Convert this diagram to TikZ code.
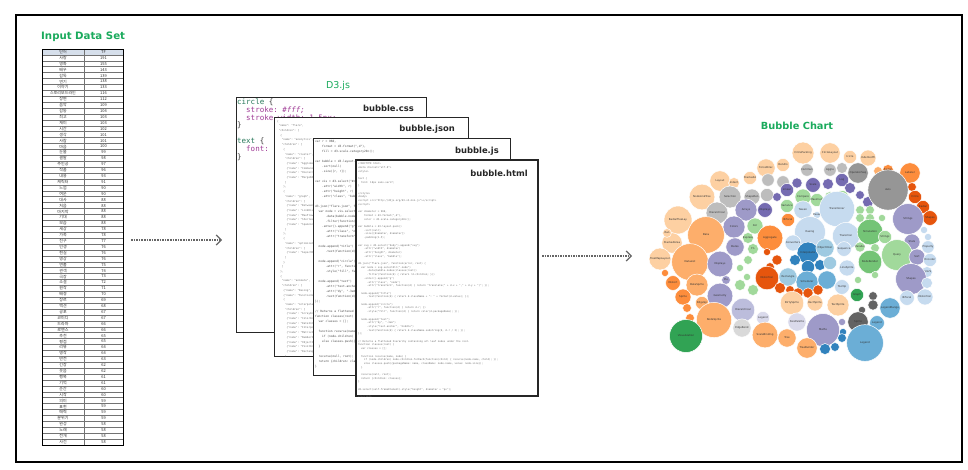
\documentclass[tikz,border=0pt]{standalone}
\usepackage{fontspec}
\setmainfont{DejaVu Sans}
\setmonofont{DejaVu Sans Mono}
\newfontfamily\kr{Noto Sans CJK KR}
\usetikzlibrary{arrows.meta,positioning}

\definecolor{vert}{RGB}{26,170,92}
\definecolor{tete}{RGB}{214,223,235}
\definecolor{cssel}{RGB}{40,120,90}
\definecolor{cssprop}{RGB}{160,60,150}
% palette category20c
\definecolor{b1}{HTML}{3182BD}\definecolor{b2}{HTML}{6BAED6}
\definecolor{b3}{HTML}{9ECAE1}\definecolor{b4}{HTML}{C6DBEF}
\definecolor{o1}{HTML}{E6550D}\definecolor{o2}{HTML}{FD8D3C}
\definecolor{o3}{HTML}{FDAE6B}\definecolor{o4}{HTML}{FDD0A2}
\definecolor{g1}{HTML}{31A354}\definecolor{g2}{HTML}{74C476}
\definecolor{g3}{HTML}{A1D99B}\definecolor{g4}{HTML}{C7E9C0}
\definecolor{p1}{HTML}{756BB1}\definecolor{p2}{HTML}{9E9AC8}
\definecolor{p3}{HTML}{BCBDDC}\definecolor{p4}{HTML}{DADAEB}
\definecolor{k1}{HTML}{636363}\definecolor{k2}{HTML}{969696}
\definecolor{k3}{HTML}{BDBDBD}\definecolor{k4}{HTML}{D9D9D9}

\tikzset{
  titre/.style={text=vert, inner sep=0},
  filebox/.style={draw=black!85, line width=1, fill=white, inner sep=0, outer sep=0, anchor=north west},
  filename/.style={inner sep=0, font=\bfseries\fontsize{8.4}{10}\selectfont, text=black!85},
  code/.style={anchor=north west, align=left, inner sep=0, text=black!70},
  flow/.style={line width=1.6, black!60, densely dotted, -{Straight Barb[length=5pt,width=10pt,line width=1.2pt]}},
  cellule/.style={font=\kr\fontsize{4}{4}\selectfont, inner sep=0, text=black!80},
  ligne/.style={black!55, line width=0.5},
  bulle/.style={draw=white, line width=0.5},
  bubtxt/.style={font=\fontsize{2.6}{3}\selectfont, text=black!80, inner sep=0},
}

\begin{document}
\begin{tikzpicture}[x=1pt,y=-1pt]
\useasboundingbox (0,0) rectangle (968,470);
% Cadre
\draw[line width=1.8] (16,15) rectangle (962,462);

% Tableau
\node[titre, anchor=base west, font=\bfseries\fontsize{10.2}{12}\selectfont] (t1) at (41,40) {Input Data Set};
\fill[tete] (42,49) rectangle (123,54.91);
\foreach \i in {1,...,66} \draw[ligne] (42,{49+\i*5.91}) -- (123,{49+\i*5.91});
\draw[ligne] (84,49) -- (84,445);
\node[draw=black, line width=0.8, minimum width=81, minimum height=396, inner sep=0, outer sep=0, anchor=north west] (tab) at (42,49) {};
\node[cellule] (h1) at (63,51.95) {단어};
\node[cellule] (h2) at (103.5,51.95) {TF};
\foreach \w/\n [count=\i] in {사랑/191,영화/155,배우/143,감독/139,연기/138,이야기/133,스토리보드라인/116,장면/112,음악/109,감동/104,최고/103,재미/103,시간/102,생각/101,사람/101,마음/100,눈물/99,결말/98,주인공/97,작품/96,내용/93,캐릭터/91,느낌/90,여운/90,대사/88,처음/88,마지막/88,기대/88,모습/88,세상/78,가족/78,친구/77,인생/76,현실/76,영상/76,연출/75,관객/74,극장/73,소설/72,원작/71,배경/70,장르/69,액션/68,공포/67,코미디/67,드라마/66,로맨스/66,추천/65,평점/65,리뷰/64,명작/64,반전/63,긴장/62,웃음/62,행복/61,기억/61,순간/60,시작/60,의미/59,표현/59,매력/59,분위기/59,완성/58,노래/58,전개/58,사건/58}
{
  \node[cellule] (mot\i) at (63,{49+(\i+0.5)*5.91}) {\w};
  \node[cellule] (tf\i) at (103.5,{49+(\i+0.5)*5.91}) {\n};
}

% Fichiers
\node[titre, anchor=base, font=\fontsize{9.5}{11}\selectfont] (t2) at (338,88.5) {D3.js};

\node[filebox, minimum width=190, minimum height=234] (css) at (236,98) {};
\node[code, text=black!80, font=\ttfamily\fontsize{7.5}{7.8}\selectfont] (csscode) at (237,98.5) {%
\textcolor{cssel}{circle} \{\\
~~\textcolor{cssprop}{stroke:} \textcolor{cssprop}{\itshape\#fff;}\\
~~\textcolor{cssprop}{stroke-width:} \textcolor{cssprop}{1.5px;}\\
\}\\
~\\
\textcolor{cssel}{text} \{\\
~~\textcolor{cssprop}{font:}\\
\}};
\node[filename, below left=6.5pt and 12pt of css.north east] (cssnom) {bubble.css};

\node[filebox, minimum width=194, minimum height=238] (json) at (274,118) {};
\begin{scope}
\clip (json.north west) rectangle (json.south east);
\node[code, text=black!55, font=\ttfamily\fontsize{2.6}{4.7}\selectfont] (jsoncode) at (277,120) {%
\{\\
~"name": "flare",\\
~"children": [\\
~~\{\\
~~~"name": "analytics",\\
~~~"children": [\\
~~~~\{\\
~~~~~"name": "cluster",\\
~~~~~"children": [\\
~~~~~~\{"name": "AgglomerativeCluster", "size": 3938\},\\
~~~~~~\{"name": "CommunityStructure", "size": 3812\},\\
~~~~~~\{"name": "HierarchicalCluster", "size": 6714\},\\
~~~~~~\{"name": "MergeEdge", "size": 743\}\\
~~~~~]\\
~~~~\},\\
~~~~\{\\
~~~~~"name": "graph",\\
~~~~~"children": [\\
~~~~~~\{"name": "BetweennessCentrality", "size": 3534\},\\
~~~~~~\{"name": "LinkDistance", "size": 5731\},\\
~~~~~~\{"name": "MaxFlowMinCut", "size": 7840\},\\
~~~~~~\{"name": "ShortestPaths", "size": 5914\},\\
~~~~~~\{"name": "SpanningTree", "size": 3416\}\\
~~~~~]\\
~~~~\},\\
~~~~\{\\
~~~~~"name": "optimization",\\
~~~~~"children": [\\
~~~~~~\{"name": "AspectRatioBanker", "size": 7074\}\\
~~~~~]\\
~~~~\}\\
~~~]\\
~~\},\\
~~\{\\
~~~"name": "animate",\\
~~~"children": [\\
~~~~\{"name": "Easing", "size": 17010\},\\
~~~~\{"name": "FunctionSequence", "size": 5842\},\\
~~~~\{\\
~~~~~"name": "interpolate",\\
~~~~~"children": [\\
~~~~~~\{"name": "ArrayInterpolator", "size": 1983\},\\
~~~~~~\{"name": "ColorInterpolator", "size": 2047\},\\
~~~~~~\{"name": "DateInterpolator", "size": 1375\},\\
~~~~~~\{"name": "Interpolator", "size": 8746\},\\
~~~~~~\{"name": "MatrixInterpolator", "size": 2202\},\\
~~~~~~\{"name": "NumberInterpolator", "size": 1382\},\\
~~~~~~\{"name": "ObjectInterpolator", "size": 1629\},\\
~~~~~~\{"name": "PointInterpolator", "size": 1675\},\\
~~~~~~\{"name": "RectangleInterpolator", "size": 2042\}\\
~~~~~]\\
~~~~\},\\
~~~~\{"name": "ISchedulable", "size": 1041\}};
\end{scope}
\node[filename, below left=6.5pt and 13pt of json.north east] (jsonnom) {bubble.json};

\node[filebox, minimum width=197, minimum height=236] (js) at (313,139) {};
\begin{scope}
\clip (js.north west) rectangle (js.south east);
\node[code, font=\ttfamily\fontsize{2.9}{5}\selectfont] (jscode) at (315,140.5) {%
var r = 960,\\
~~~~format = d3.format(",d"),\\
~~~~fill = d3.scale.category20c();\\
~\\
var bubble = d3.layout.pack()\\
~~~~.sort(null)\\
~~~~.size([r, r]);\\
~\\
var vis = d3.select("\#chart").append("svg")\\
~~~~.attr("width", r)\\
~~~~.attr("height", r)\\
~~~~.attr("class", "bubble");\\
~\\
d3.json("flare.json", function(json) \{\\
~~var node = vis.selectAll("g.node")\\
~~~~~~.data(bubble.nodes(classes(json))\\
~~~~~~.filter(function(d) \{ return !d.children; \}))\\
~~~~.enter().append("g")\\
~~~~~~.attr("class", "node")\\
~~~~~~.attr("transform", function(d) \{ return "translate(" + d.x + "," + d.y + ")"; \});\\
~\\
~~node.append("title")\\
~~~~~~.text(function(d) \{ return d.className + ": " + format(d.value); \});\\
~\\
~~node.append("circle")\\
~~~~~~.attr("r", function(d) \{ return d.r; \})\\
~~~~~~.style("fill", function(d) \{ return fill(d.packageName); \});\\
~\\
~~node.append("text")\\
~~~~~~.attr("text-anchor", "middle")\\
~~~~~~.attr("dy", ".3em")\\
~~~~~~.text(function(d) \{ return d.className.substring(0, d.r / 3); \});\\
\});\\
~\\
// Returns a flattened hierarchy containing all leaf nodes under the root.\\
function classes(root) \{\\
~~var classes = [];\\
~\\
~~function recurse(name, node) \{\\
~~~~if (node.children) node.children.forEach(function(child) \{ recurse(node.name, child); \});\\
~~~~else classes.push(\{packageName: name, className: node.name, value: node.size\});\\
~~\}\\
~\\
~~recurse(null, root);\\
~~return \{children: classes\};\\
\}};
\end{scope}
\node[filename, below left=8pt and 11pt of js.north east] (jsnom) {bubble.js};

\node[filebox, line width=1.3, minimum width=182, minimum height=236] (html) at (356,160) {};
\begin{scope}
\clip (html.north west) rectangle (html.south east);
\node[code, text=black!55, font=\ttfamily\fontsize{2.5}{3.7}\selectfont] (htmlcode) at (358,162.5) {%
<!DOCTYPE html>\\
<meta charset="utf-8">\\
<style>\\
~\\
text \{\\
~~font: 10px sans-serif;\\
\}\\
~\\
</style>\\
<body>\\
<script src="http://d3js.org/d3.v3.min.js"></script>\\
<script>\\
~\\
var diameter = 960,\\
~~~~format = d3.format(",d"),\\
~~~~color = d3.scale.category20c();\\
~\\
var bubble = d3.layout.pack()\\
~~~~.sort(null)\\
~~~~.size([diameter, diameter])\\
~~~~.padding(1.5);\\
~\\
var svg = d3.select("body").append("svg")\\
~~~~.attr("width", diameter)\\
~~~~.attr("height", diameter)\\
~~~~.attr("class", "bubble");\\
~\\
d3.json("flare.json", function(error, root) \{\\
~~var node = svg.selectAll(".node")\\
~~~~~~.data(bubble.nodes(classes(root))\\
~~~~~~.filter(function(d) \{ return !d.children; \}))\\
~~~~.enter().append("g")\\
~~~~~~.attr("class", "node")\\
~~~~~~.attr("transform", function(d) \{ return "translate(" + d.x + "," + d.y + ")"; \});\\
~\\
~~node.append("title")\\
~~~~~~.text(function(d) \{ return d.className + ": " + format(d.value); \});\\
~\\
~~node.append("circle")\\
~~~~~~.attr("r", function(d) \{ return d.r; \})\\
~~~~~~.style("fill", function(d) \{ return color(d.packageName); \});\\
~\\
~~node.append("text")\\
~~~~~~.attr("dy", ".3em")\\
~~~~~~.style("text-anchor", "middle")\\
~~~~~~.text(function(d) \{ return d.className.substring(0, d.r / 3); \});\\
\});\\
~\\
// Returns a flattened hierarchy containing all leaf nodes under the root.\\
function classes(root) \{\\
~~var classes = [];\\
~\\
~~function recurse(name, node) \{\\
~~~~if (node.children) node.children.forEach(function(child) \{ recurse(node.name, child); \});\\
~~~~else classes.push(\{packageName: name, className: node.name, value: node.size\});\\
~~\}\\
~\\
~~recurse(null, root);\\
~~return \{children: classes\};\\
\}\\
~\\
d3.select(self.frameElement).style("height", diameter + "px");\\
~\\
</script>};
\end{scope}
\node[filename, below left=9.5pt and 10pt of html.north east] (htmlnom) {bubble.html};

% Bulles
\node[titre, anchor=base, font=\bfseries\fontsize{9.8}{11}\selectfont] (t3) at (797,129.3) {Bubble Chart};
\foreach \px/\py/\ray/\col/\lab [count=\i] in {
803/153/10/o4/CirclePacking, 830/153/9.3/o4/CircleLayout, 850/157/6/o4/Icicle, 868/158/7.3/o4/IndentedTr,
766/168/8.3/o4/ForceDirec, 783/165/6/o4/Dendro, 807/170/5.7/k3/Commun, 830/170/5.7/k3/Aggre, 842/168/5/k3/,
858/173/9.3/k2/OperatorSeq, 878/171/4/o3/, 888/170/5/o2/Radial, 910/173/9.3/o2/Labeler,
720/181/9.3/o4/Layout, 734/183/5/o4/Indent, 750/178/6/o4/StackedA, 768/180/5.7/k3/, 783/182/5.7/k3/,
797/183/4.7/p1/, 813/185/6.7/p1/Scale, 828/184/5/p1/, 842/180/6/p1/Log, 850/188/5/p1/,
912/187/4/o1/, 915/197/6/o1/Circle, 923/207/6/o1/Radial, 930/218/6.7/o1/Shapes,
702/197/11.7/o4/NodeLinkTree, 730/197/10/k3/Selection, 752/197/7.3/k3/ShapeRen, 767/195/6/k3/,
777/197/4/p1/, 787/190/6/p1/Linear, 803/197/7.3/g3/Compare, 817/200/6/g3/Maximum, 830/197/5/g3/Sum,
842/197/6/g3/Range, 860/195/4/p1/, 868/202/5/p1/, 888/190/18.3/k2/Axis,
678/220/12.7/o4/RadialTreeLay, 672/243/9.3/o4/StackedArea, 660/259/10/o4/TreeMapLayout, 667/233/4/o4/Ran,
717/213/10/k3/Hierarchical, 746/210/10/p2/Arrays, 765/210/6.7/p1/Displays, 787/206/6/g3/Variance,
803/210/8.3/b4/Tween, 817/215/3.3/b4/Pause, 837/209/16/b4/Transitioner, 860/210/4/g3/, 870/210/4/g3/,
908/219/14/p2/Strings, 734/227/10/p2/Colors, 755/226/7.3/g3/Xor, 788/220/6/o2/Bifocal,
810/232/14/b4/Easing, 860/218/4/g3/, 870/218/4/g3/, 882/218/3.3/g3/,
706/235/16.7/o3/Data, 735/247/8.3/p2/Dates, 748/238/5/g3/Express, 770/238/11.7/o2/Aggregate,
793/243/7.3/b4/Converters, 846/236/12.3/b4/Transition, 870/232/11.7/g2/Simulation, 885/237/6/g3/Strings,
912/242/7.3/p2/Stats, 924/230/3.3/b4/, 928/237/3.3/b4/, 928/247/5.7/b4/Property,
753/249/5/g3/Fn, 748/260/4/g3/, 740/268/3.3/g3/, 747/277/3.3/g3/,
690/262/16.7/o3/DataList, 720/264/11.7/p2/Displays, 767/252/3.3/o1/, 777/260/4.7/o1/, 770/267/4/o1/,
808/253/10/b1/Interpolator, 825/248/8.3/b3/ObjectInter, 844/249/6.7/b4/Sequence, 860/247/4.7/g3/Parallel,
875/248/4/g3/, 897/255/14/g3/Query, 917/257/7.3/p2/Sort, 930/260/6/b4/Encoder,
795/260/5/b1/, 808/267/6/b1/, 820/265/5/b1/, 830/263/6/b3/, 847/268/7.3/b4/LineSprite,
870/262/10.7/g2/NodeRender, 927/272/5/b4/ColorS, 665/273/3.3/o2/,
767/278/10.7/o1/Distortion, 788/277/8.3/b3/Rectangle, 807/282/10/b2/Scheduler, 827/280/8.3/b2/,
842/287/6.7/b4/Tooltip, 858/280/3.3/g3/, 875/275/3.3/g3/, 911/279/14/p2/Shapes, 927/283/5/b4/,
726/280/4/p2/Pie, 673/283/6.7/o2/Distort, 697/285/10/o3/DataSprite, 740/285/5/g3/, 753/290/5/g3/,
780/288/5/o1/, 790/290/4/o1/, 798/293/4.7/o1/, 808/293/4.7/o1/, 818/290/4.7/o1/,
857/295/6/g1/Graph, 873/296/4/k1/, 925/297/7.3/b4/Distortion, 907/298/6.7/b4/Bifocal,
720/296/11.7/p2/Geometry, 683/297/7.3/o2/Sprite, 702/303/6/o3/EdgeSp,
792/303/10.7/o4/DirtySprite, 815/303/7.3/o4/RectSprite, 838/305/10/o4/TextSprite,
743/310/10.7/p3/Hierarchical, 862/310/3.3/k1/, 873/305/4.7/k1/, 890/308/9.3/b2/LegendRange,
687/308/4/o2/, 690/318/4/o2/, 714/320/16/o3/NodeSprite, 742/328/8.3/k4/EdgeRend,
763/318/6/p4/Legend, 767/327/3.3/p4/, 797/322/8.3/p4/SizePalette, 858/322/9.3/k1/Sprite,
877/323/6.7/b2/Legend, 823/330/15/p2/Maths, 842/322/3.3/p2/, 843/332/3.3/b1/, 842/338/4/b1/,
835/347/4/b1/, 686/336/15/g1/Visualization, 765/335/11.7/o3/ScaleBinding, 787/338/8.3/o3/Tree,
807/348/9.3/o3/TreeBuilder, 825/349/5/b1/, 865/343/16.7/b2/Legend}
{
  \draw[bulle, fill=\col] (\px,\py) circle[radius={1.1*\ray}];
  \node[bubtxt] (bulle\i) at (\px,\py) {\lab};
}

% Flèches
\coordinate (niv1) at (0,240);
\coordinate (graphe) at (648,256);
\draw[flow, shorten <=8pt, shorten >=14pt] (tab.east |- niv1) -- (css.west |- niv1);
\draw[flow, shorten <=4pt, shorten >=16pt] (html.east |- graphe) -- (graphe);
\end{tikzpicture}
\end{document}
